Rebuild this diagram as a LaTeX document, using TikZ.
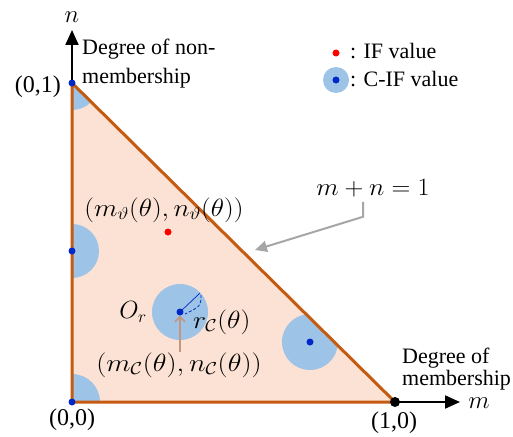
\documentclass[tikz,border=0pt]{standalone}
\usepackage{fontspec}
\setmainfont{Liberation Serif}
\usetikzlibrary{arrows.meta}
\definecolor{fillpeach}{RGB}{251,226,212}
\definecolor{edgeorange}{RGB}{197,90,17}
\definecolor{discblue}{RGB}{157,195,230}
\definecolor{dotblue}{RGB}{0,40,200}
\definecolor{arrowgray}{RGB}{166,166,166}
\definecolor{arrowtan}{RGB}{196,150,125}
\newcommand{\mxs}[2]{\scalebox{#1}[1]{$#2$}}
\begin{document}
\begin{tikzpicture}[x=1pt,y=-1pt,
  txt/.style={inner sep=0pt, font=\fontsize{22}{24}\selectfont},
  coordtxt/.style={inner sep=0pt, font=\fontsize{24}{26}\selectfont},
  mathtxt/.style={inner sep=0pt, font=\fontsize{26}{28}\selectfont},
  bdot/.style={circle, fill=dotblue, inner sep=0pt, minimum size=7pt},
  rdot/.style={circle, fill=red, inner sep=0pt, minimum size=7pt},
  edge/.style={draw=edgeorange, line width=3pt, line join=round},
  axis/.style={draw=black, line width=2pt, -{Triangle[length=15pt,width=13pt]}}]
\useasboundingbox (0,0) rectangle (513,436);
\fill[white] (0,0) rectangle (513,436);
\coordinate (O) at (72,402);
\coordinate (A) at (72,83);
\coordinate (B) at (395,402);
\coordinate (ntop) at (72,30);
\coordinate (mend) at (460,402);
% axes
\draw[axis] (O) -- (ntop);
\draw[axis] (B) -- (mend);
% triangle fill
\fill[fillpeach] (O) -- (A) -- (B) -- cycle;
% discs clipped
\begin{scope}
  \clip (O) -- (A) -- (B) -- cycle;
  \fill[discblue] (72,83) circle[radius=27pt];
  \fill[discblue] (72,251) circle[radius=27pt];
  \fill[discblue] (72,402) circle[radius=28pt];
  \fill[discblue] (180,312) circle[radius=28pt];
  \fill[discblue] (310,342) circle[radius=28pt];
\end{scope}
% radius marks
\draw[dotblue, line width=0.7pt] (180,312) -- (200,293);
\draw[dotblue, line width=0.8pt, dashed, dash pattern=on 3pt off 2pt] (201,295) .. controls (201,306) .. (185,314);
% edges
\draw[edge] (O) -- (A) -- (B) -- cycle;
% dots
\node[bdot] (dA) at (72,83) {};
\node[bdot] (dL) at (72,251) {};
\node[bdot] (dO) at (72,402) {};
\node[bdot] (dC) at (180,312) {};
\node[bdot] (dR) at (310,342) {};
\node[circle, fill=black, inner sep=0pt, minimum size=10pt] (dB) at (395,402) {};
\node[rdot] (dI) at (168,232) {};
% legend
\node[rdot] (legI) at (336,53) {};
\fill[discblue] (336,80) circle[radius=13pt];
\node[bdot] (legC) at (336,80) {};
\node[txt, anchor=base west] (legIt) at (350,59) {: IF value};
\node[txt, anchor=base west] (legCt) at (350,86) {: C-IF value};
% axis labels
\node[mathtxt] (nl) at (72,17) {$n$};
\node[mathtxt] (ml) at (479,403) {$m$};
\node[txt, anchor=base west] (deg1) at (82,55) {Degree of non-};
\node[txt, anchor=base west] (deg2) at (82,83) {membership};
\node[txt, anchor=base west] (deg3) at (402,363) {Degree of};
\node[txt, anchor=base west] (deg4) at (402,385) {membership};
\node[coordtxt, anchor=base east] (c01) at (61,92) {(0,1)};
\node[coordtxt, anchor=base] (c00) at (72,425) {(0,0)};
\node[coordtxt, anchor=base] (c10) at (394,428) {(1,0)};
% math labels
\node[mathtxt, anchor=base] (eq) at (373,195) {\mxs{1.05}{m+n=1}};
\node[mathtxt] (mv) at (164,210) {\mxs{1.1}{(m_\vartheta(\theta),n_\vartheta(\theta))}};
\node[mathtxt] (Or) at (133,312) {$O_r$};
\node[mathtxt, anchor=west] (rc) at (193,322) {\mxs{1.12}{r_{\mathcal{C}}(\theta)}};
\node[mathtxt] (mc) at (179,365) {\mxs{1.14}{(m_{\mathcal{C}}(\theta),n_{\mathcal{C}}(\theta))}};
% connectors
\coordinate (hyp) at (255,250);
\draw[arrowgray, line width=2pt, -{Triangle[length=12pt,width=11pt]}] ([xshift=-10pt]eq.south) ++(0,5) -- ++(0,15) -- (hyp);
\draw[arrowtan, line width=1.5pt, -{Straight Barb[length=5pt,width=10pt]}] (mc.north -| dC) -- (dC.south);
\end{tikzpicture}
\end{document}
